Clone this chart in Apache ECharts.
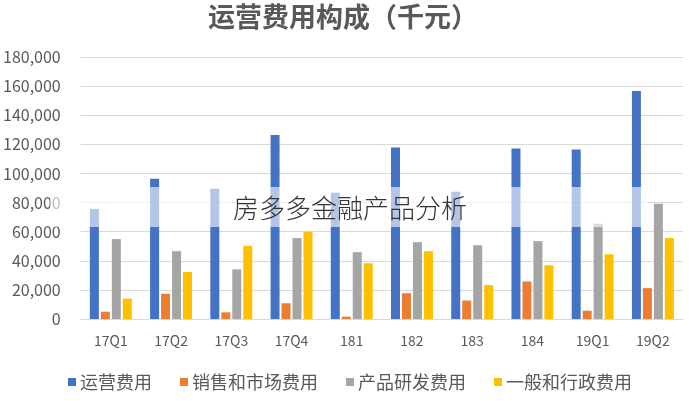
<!DOCTYPE html>
<html><head><meta charset="utf-8">
<script src="https://cdn.jsdelivr.net/npm/echarts@6/dist/echarts.min.js"></script>
<style>html,body{margin:0;padding:0;background:#fff}#c{width:699px;height:401px}</style>
</head><body><div id="c"></div>
<script>
const categories = ['17Q1','17Q2','17Q3','17Q4','181','182','183','184','19Q1','19Q2'];
const seriesNames = ['运营费用','销售和市场费用','产品研发费用','一般和行政费用'];
const operating = [75600, 96400, 89500, 126400, 86700, 117900, 87400, 117200, 116500, 156600];
const salesMarketing = [5000, 17300, 4600, 10800, 1600, 17700, 12700, 25800, 5700, 21200];
const rnd = [54900, 46600, 34100, 55600, 45900, 52800, 50700, 53500, 65500, 79100];
const generalAdmin = [14000, 32300, 50300, 60000, 38300, 46600, 23300, 36900, 44500, 55600];
const colors = ['#4472C4','#ED7D31','#A5A5A5','#FFC000'];
const FONT = '"Noto Sans CJK SC", "Noto Sans", sans-serif';
const txt = '#595959';

const chart = echarts.init(document.getElementById('c'), null, {renderer:'canvas'});
const data = [operating, salesMarketing, rnd, generalAdmin];
chart.setOption({
  animation:false,
  title:{text:'运营费用构成（千元）', left:203, top:-2,
    textStyle:{fontFamily:FONT, fontSize:27, fontWeight:'bold', color:txt}},
  grid:{left:77, right:16, top:57, bottom:82, containLabel:false},
  legend:{bottom:5, left:63, itemWidth:8, itemHeight:8, itemGap:28, icon:'rect',
    textStyle:{fontFamily:FONT, fontSize:18, color:txt, padding:[0,0,0,-1]},
    data:seriesNames},
  xAxis:{type:'category', data:categories,
    axisLine:{lineStyle:{color:'#D9D9D9', width:1}}, axisTick:{show:false},
    axisLabel:{fontFamily:FONT, fontSize:14, color:txt, margin:15}},
  yAxis:{type:'value', min:0, max:180000, interval:20000,
    axisLine:{show:false}, axisTick:{show:false},
    splitLine:{lineStyle:{color:'#D9D9D9', width:1}},
    axisLabel:{fontFamily:FONT, fontSize:16, color:txt, margin:20,
      formatter:v=>v.toLocaleString('en-US')}},
  series: seriesNames.map((n,i)=>({name:n, type:'bar', data:data[i], barWidth:9, barGap:'22%',
    itemStyle:{color:colors[i]}})),
  graphic:[
    {type:'rect', shape:{x:50, y:187, width:598, height:40}, z:100,
     style:{fill:'rgba(255,255,255,0.6)'}},
    {type:'text', x:350, y:208, z:101,
     style:{text:'房多多金融产品分析', fill:'#333', font:'300 26px "Noto Sans CJK SC"', align:'center', verticalAlign:'middle'}}
  ]
});
</script></body></html>
